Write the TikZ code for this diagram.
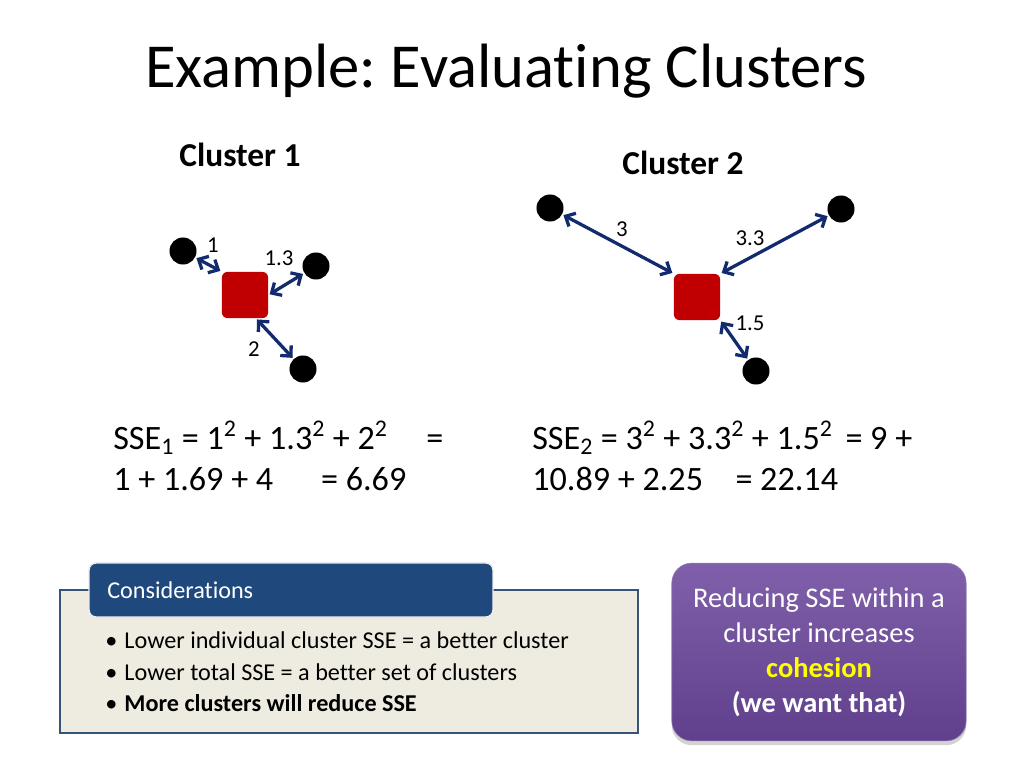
\documentclass[tikz,border=0pt]{standalone}
\usepackage{fontspec}
\setmainfont[Ligatures=NoCommon]{Carlito}
\usetikzlibrary{positioning,arrows.meta,shadows}
\definecolor{clred}{RGB}{192,0,0}
\definecolor{clnavy}{RGB}{18,42,110}
\definecolor{tabblue}{RGB}{31,73,125}
\definecolor{boxgray}{RGB}{238,236,225}
\definecolor{boxedge}{RGB}{54,84,120}
\definecolor{purtop}{RGB}{128,96,170}
\definecolor{purbot}{RGB}{96,64,140}
\definecolor{cohyellow}{RGB}{255,255,0}
\frenchspacing

\begin{document}
\begin{tikzpicture}[x=0.703pt,y=-0.703pt,
  cdot/.style={circle,fill=black,minimum size=19pt,inner sep=0pt},
  cent/.style={rectangle,rounded corners=4pt,fill=clred,minimum width=32.5pt,minimum height=32.5pt,inner sep=0pt},
  darr/.style={{Straight Barb[length=5.5pt,width=10.5pt]}-{Straight Barb[length=5.5pt,width=10.5pt]},clnavy,line width=2.3pt,shorten <=1pt,shorten >=1pt},
  dlab/.style={font=\fontsize{16}{18}\selectfont},
  sse/.style={anchor=base west,inner sep=0pt,font=\fontsize{24}{29}\selectfont},
  blt/.style={anchor=base west,inner sep=0pt,font=\fontsize{17}{20}\selectfont}
]
\useasboundingbox (0,0) rectangle (1024,768);

% title and headings
\node (title) at (506,71) {\fontsize{44}{52}\selectfont Example: Evaluating Clusters};
\node (h1) at (240,155) {\fontsize{23.5}{28}\selectfont\bfseries Cluster 1};
\node (h2) at (683,163) {\fontsize{23.5}{28}\selectfont\bfseries Cluster 2};

% cluster 1
\node[cent] (s1) at (245,295) {};
\node[cdot] (a1) at (183,251) {};
\node[cdot] (a2) at (316,266) {};
\node[cdot] (a3) at (303,369) {};
\draw[darr] (a1) -- (s1.north west);
\draw[darr] (a2) -- (s1.east);
\draw[darr] (a3) -- (s1.-65);
\node[dlab] (l1) at (213,245) {1};
\node[dlab] (l2) at (279,258) {1.3};
\node[dlab] (l3) at (254,349) {2};

% cluster 2
\node[cent] (s2) at (697,297) {};
\node[cdot] (b1) at (550,208) {};
\node[cdot] (b2) at (841,209) {};
\node[cdot] (b3) at (756,371) {};
\draw[darr] (b1) -- (s2.north west);
\draw[darr] (b2) -- (s2.north east);
\draw[darr] (b3) -- (s2.south east);
\node[dlab] (m1) at (622,229) {3};
\node[dlab] (m2) at (750,238) {3.3};
\node[dlab] (m3) at (750,323) {1.5};

% sums
\node[sse] (e1) at (113,449) {SSE\textsubscript{1} = 1\textsuperscript{2} + 1.3\textsuperscript{2} + 2\textsuperscript{2}\hspace{1.13em}=};
\node[sse] (e2) at (113,490) {1 + 1.69 + 4\hspace{1.4em}= 6.69};
\node[sse] (f1) at (532,449) {SSE\textsubscript{2} = 3\textsuperscript{2} + 3.3\textsuperscript{2} + 1.5\textsuperscript{2}\hspace{0.15em} = 9 +};
\node[sse] (f2) at (532,490) {10.89 + 2.25\hspace{0.95em}= 22.14};

% considerations
\draw[boxedge,line width=1.5pt,fill=boxgray] (60,590) rectangle (638,733);
\node[rectangle,rounded corners=5pt,fill=tabblue,draw=white!85!gray,line width=1pt,
  minimum width=284pt,minimum height=38pt,inner sep=0pt] (tab) at (291,590) {};
\node[anchor=west,text=white,font=\fontsize{17}{20}\selectfont,inner sep=0pt] (tabtxt) at (107,590) {Considerations};
\node[blt] (b1t) at (105,648) {\textbullet\hspace{5pt}Lower individual cluster SSE = a better cluster};
\node[blt] (b2t) at (105,680) {\textbullet\hspace{5pt}Lower total SSE = a better set of clusters};
\node[blt] (b3t) at (105,711) {\textbullet\hspace{5pt}\textbf{More clusters will reduce SSE}};

% purple note
\node[rectangle,rounded corners=14pt,top color=purtop,bottom color=purbot,draw=purtop!80!white,
  drop shadow={shadow xshift=0pt,shadow yshift=-3pt,opacity=0.35},
  minimum width=207pt,minimum height=125pt,inner sep=0pt,text=white,align=center,
  font=\fontsize{20}{24.5}\selectfont] (note) at (819,652)
  {Reducing SSE within a\\cluster increases\\{\bfseries\color{cohyellow}cohesion}\\{\bfseries (we want that)}};
\end{tikzpicture}
\end{document}
